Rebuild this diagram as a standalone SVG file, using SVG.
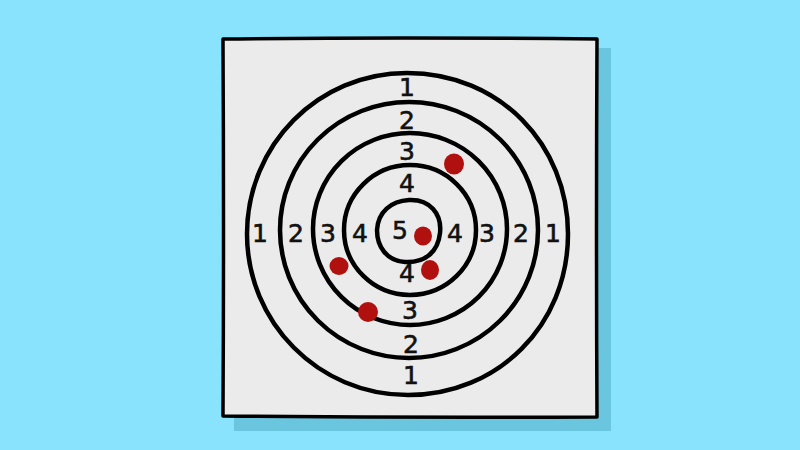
<svg xmlns="http://www.w3.org/2000/svg" width="800" height="450" viewBox="0 0 800 450">
<style>
.ring{fill:none;stroke:#000;stroke-width:4.5;stroke-linecap:round}
.num{font-family:"DejaVu Sans","Liberation Sans",sans-serif;font-size:25px;fill:#111;text-anchor:middle;dominant-baseline:central;stroke:#111;stroke-width:0.6}
.hit{fill:#b0110e}
</style>
<rect width="800" height="450" fill="#8ae3fd"/>
<g id="paper">
<path d="M236 50 L611 48 L611 431 L234 431 Z" fill="#6ac6df"/>
<path d="M223 39 Q400 37 597 39 Q596 230 597 417 Q410 418 223 416 Q224 230 223 39 Z" fill="#ebebeb" stroke="#000" stroke-width="3.5" stroke-linejoin="round"/>
</g>
<g id="rings">
<path class="ring" d="M407 73 C500 73 568 145 568 234 C568 325 498 395 408 395 C318 395 247 322 247 234 C247 145 318 73 407 73 Z"/>
<ellipse class="ring" cx="409" cy="230" rx="129" ry="128"/>
<ellipse class="ring" cx="410" cy="229" rx="97" ry="96"/>
<ellipse class="ring" cx="410" cy="230" rx="66" ry="65"/>
<path class="ring" d="M409 200 C430 199 442 214 440 233 C438 252 425 263 405 262 C387 261 377 247 377 230 C378 212 391 201 409 200 Z"/>
</g>
<g id="labels">
<text class="num" x="407" y="87">1</text>
<text class="num" x="407" y="120">2</text>
<text class="num" x="407" y="151">3</text>
<text class="num" x="407" y="183">4</text>
<text class="num" x="260" y="233">1</text>
<text class="num" x="296" y="233">2</text>
<text class="num" x="328" y="233">3</text>
<text class="num" x="360" y="233">4</text>
<text class="num" x="400" y="230">5</text>
<text class="num" x="455" y="233">4</text>
<text class="num" x="487" y="233">3</text>
<text class="num" x="521" y="233">2</text>
<text class="num" x="553" y="233">1</text>
<text class="num" x="407" y="273">4</text>
<text class="num" x="410" y="310">3</text>
<text class="num" x="411" y="344">2</text>
<text class="num" x="411" y="375">1</text>
</g>
<g id="hits">
<ellipse class="hit" cx="454" cy="164" rx="10" ry="10.5"/>
<ellipse class="hit" cx="423" cy="236" rx="9" ry="9.5"/>
<ellipse class="hit" cx="430" cy="270" rx="9" ry="10"/>
<ellipse class="hit" cx="339" cy="266" rx="9.5" ry="9"/>
<ellipse class="hit" cx="368" cy="312" rx="10" ry="10"/>
</g>
</svg>
